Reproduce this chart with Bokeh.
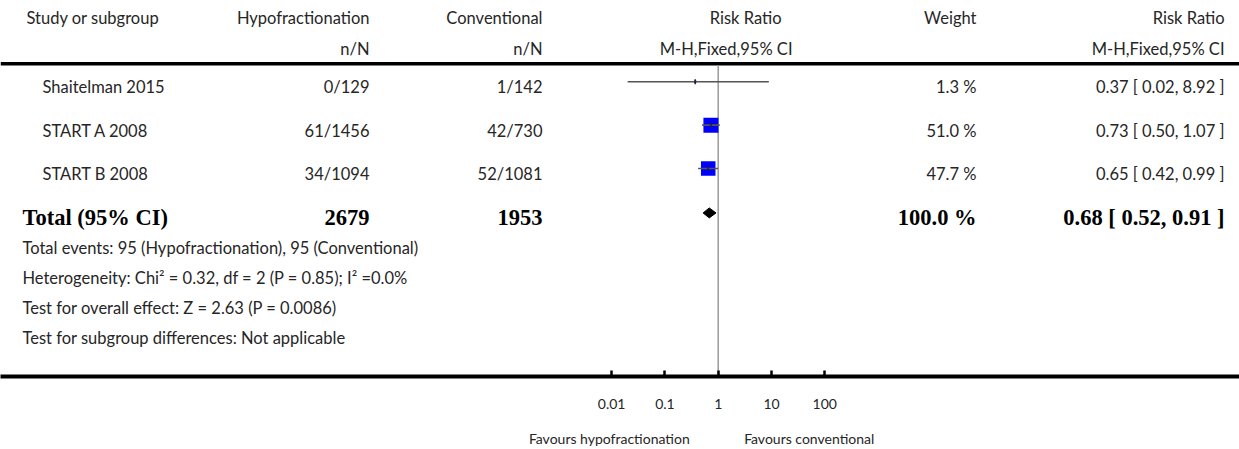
from math import sqrt, log10
from bokeh.plotting import figure
from bokeh.models import (Range1d, LogScale, LogAxis, FixedTicker, ColumnDataSource,
                          CustomJSTickFormatter)
from bokeh.core.properties import value
from bokeh.embed import file_html
from bokeh.resources import INLINE

# ---------------- data ----------------
studies = ["Shaitelman 2015", "START A 2008", "START B 2008"]
hypo_events = [0, 61, 34]
hypo_total = [129, 1456, 1094]
conv_events = [1, 42, 52]
conv_total = [142, 730, 1081]
weights = [1.3, 51.0, 47.7]
rr = [0.37, 0.73, 0.65]
rr_low = [0.02, 0.50, 0.42]
rr_high = [8.92, 1.07, 0.99]

total_label = "Total (95% CI)"
total_hypo = 2679
total_conv = 1953
total_weight = 100.0
total_rr = 0.68
total_low = 0.52
total_high = 0.91

header_top = ["Study or subgroup", "Hypofractionation", "Conventional", "Risk Ratio", "Weight", "Risk Ratio"]
header_sub = ["", "n/N", "n/N", "M-H,Fixed,95% CI", "", "M-H,Fixed,95% CI"]

footnotes = [
    "Total events: 95 (Hypofractionation), 95 (Conventional)",
    "Heterogeneity: Chi\u00b2 = 0.32, df = 2 (P = 0.85); I\u00b2 =0.0%",
    "Test for overall effect: Z = 2.63 (P = 0.0086)",
    "Test for subgroup differences: Not applicable",
]

tick_values = [0.01, 0.1, 1, 10, 100]
tick_labels = ["0.01", "0.1", "1", "10", "100"]
favours_labels = ["Favours hypofractionation", "Favours conventional"]
null_rr = 1.0

# ---------------- layout (picture pixel coordinates) ----------------
W, H = 1239, 449
AXIS_Y = 377
NULL_PX = 717.7
PX_PER_DECADE = 53.3

COL_NAME_HDR = 26
COL_NAME = 42
COL_TOTAL = 22
COL_HYPO = 369
COL_CONV = 542
COL_RR_HDR = 781
COL_RR_SUB = 792
COL_W = 976
COL_RR = 1224
HDR_COLS_ALIGN = ["left", "right", "right", "right", "right", "right"]
HDR_TOP_X = [COL_NAME_HDR, COL_HYPO, COL_CONV, COL_RR_HDR, COL_W, COL_RR]
HDR_SUB_X = [COL_NAME_HDR, COL_HYPO, COL_CONV, COL_RR_SUB, COL_W, COL_RR]

HDR1_Y = 18
HDR2_Y = 49
RULE_Y = 63.5
ROW_Y0 = 87
ROW_STEP = 43.5
MARK_OFFSET = -5.5
FOOT_Y0 = 248.5
FOOT_STEP = 30

FAV_CENTER_PX = [608.8, 808.7]

SQUARE_MAX = 15
DIAMOND_HALF = 5

REG_FONT = value("Lato")
REG_SIZE = "16.5px"
BOLD_FONT = value("Liberation Serif")
BOLD_SIZE = "22.5px"
TEXT_COLOR = "#262626"


def px_to_rr(px):
    return null_rr * 10 ** ((px - NULL_PX) / PX_PER_DECADE)


p = figure(width=W, height=H, output_backend="svg", toolbar_location=None,
           x_range=Range1d(0, W), y_range=Range1d(AXIS_Y, 0),
           x_axis_type=None, y_axis_type=None, min_border=0)
p.min_border_bottom = H - AXIS_Y
p.extra_x_ranges = {"rr": Range1d(px_to_rr(0), px_to_rr(W))}
p.extra_x_scales = {"rr": LogScale()}
p.outline_line_color = None
p.grid.visible = False
p.background_fill_color = "white"
p.border_fill_color = "white"


def add_text(xs, ys, texts, align, font=REG_FONT, size=REG_SIZE, style="normal", color=TEXT_COLOR):
    src = ColumnDataSource(dict(x=xs, y=ys, t=texts))
    p.text(x="x", y="y", text="t", source=src, text_align=align, text_baseline="middle",
           text_font=font, text_font_size=size, text_font_style=style, text_color=color)


# headers
for i, a in enumerate(HDR_COLS_ALIGN):
    add_text([HDR_TOP_X[i]], [HDR1_Y], [header_top[i]], a)
    if header_sub[i]:
        add_text([HDR_SUB_X[i]], [HDR2_Y], [header_sub[i]], a)

# study rows
n = len(studies)
row_y = [ROW_Y0 + ROW_STEP * i for i in range(n)]
add_text([COL_NAME] * n, row_y, studies, "left")
add_text([COL_HYPO] * n, row_y, [f"{a}/{b}" for a, b in zip(hypo_events, hypo_total)], "right")
add_text([COL_CONV] * n, row_y, [f"{a}/{b}" for a, b in zip(conv_events, conv_total)], "right")
add_text([COL_W] * n, row_y, [f"{w:.1f} %" for w in weights], "right")
add_text([COL_RR] * n, row_y,
         [f"{r:.2f} [ {l:.2f}, {h:.2f} ]" for r, l, h in zip(rr, rr_low, rr_high)], "right")

# total row
tot_y = ROW_Y0 + ROW_STEP * n
bold = dict(font=BOLD_FONT, size=BOLD_SIZE, style="bold", color="black")
add_text([COL_TOTAL], [tot_y], [total_label], "left", **bold)
add_text([COL_HYPO], [tot_y], [str(total_hypo)], "right", **bold)
add_text([COL_CONV], [tot_y], [str(total_conv)], "right", **bold)
add_text([COL_W], [tot_y], [f"{total_weight:.1f} %"], "right", **bold)
add_text([COL_RR], [tot_y], [f"{total_rr:.2f} [ {total_low:.2f}, {total_high:.2f} ]"], "right", **bold)

# footnotes
add_text([COL_TOTAL] * len(footnotes), [FOOT_Y0 + FOOT_STEP * i for i in range(len(footnotes))],
         footnotes, "left")

# header rule
p.segment(x0=[0], x1=[W], y0=[RULE_Y], y1=[RULE_Y], line_color="black", line_width=3.5)

# null line
p.segment(x0=[null_rr], x1=[null_rr], y0=[RULE_Y + 1.5], y1=[AXIS_Y], x_range_name="rr",
          line_color="#9a9a9a", line_width=1.5)

# forest marks
mark_y = [y + MARK_OFFSET for y in row_y]
wmax = max(weights)
sizes = [SQUARE_MAX * sqrt(w / wmax) for w in weights]
fsrc = ColumnDataSource(dict(rr=rr, lo=rr_low, hi=rr_high, y=mark_y, s=sizes))
p.scatter(x="rr", y="y", size="s", marker="square", source=fsrc, x_range_name="rr",
          fill_color="#0000ff", line_color=None)
p.segment(x0="lo", x1="hi", y0="y", y1="y", source=fsrc, x_range_name="rr",
          line_color="#555555", line_width=1.6)
p.scatter(x="rr", y="y", size=5, marker="dash", angle=1.5708, source=fsrc, x_range_name="rr",
          line_color="#222222", line_width=1.5)

# diamond
dy = tot_y + MARK_OFFSET + 1
p.patches(xs=[[total_low, total_rr, total_high, total_rr]],
          ys=[[dy, dy - DIAMOND_HALF, dy, dy + DIAMOND_HALF]], x_range_name="rr",
          fill_color="black", line_color="black", line_width=1)

# axis with tick labels
axis = LogAxis(x_range_name="rr", ticker=FixedTicker(ticks=tick_values),
               formatter=CustomJSTickFormatter(args=dict(labels=tick_labels), code="return labels[index]"))
axis.axis_line_width = 4
axis.axis_line_color = "black"
axis.major_tick_in = 6
axis.major_tick_out = 0
axis.major_tick_line_width = 2.5
axis.major_tick_line_color = "black"
axis.minor_tick_line_color = None
axis.major_label_standoff = 22
axis.major_label_text_font = "Lato"
axis.major_label_text_font_size = "14px"
axis.major_label_text_color = TEXT_COLOR
p.add_layout(axis, "below")

# second axis carrying the "Favours ..." captions
fav_axis = LogAxis(x_range_name="rr", ticker=FixedTicker(ticks=[px_to_rr(c) for c in FAV_CENTER_PX]),
                   formatter=CustomJSTickFormatter(args=dict(labels=favours_labels), code="return labels[index]"))
fav_axis.axis_line_color = None
fav_axis.major_tick_line_color = None
fav_axis.minor_tick_line_color = None
fav_axis.major_tick_in = 0
fav_axis.major_tick_out = 0
fav_axis.major_label_standoff = 18
fav_axis.major_label_text_font = "Lato"
fav_axis.major_label_text_font_size = "14px"
fav_axis.major_label_text_color = TEXT_COLOR
p.add_layout(fav_axis, "below")

open("out.html", "w").write(file_html(p, INLINE))
